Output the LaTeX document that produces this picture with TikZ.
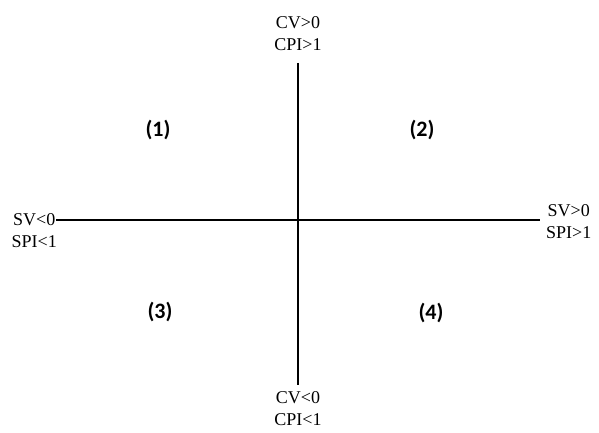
\documentclass[tikz,border=0pt]{standalone}
\usepackage{fontspec}
\setmainfont{Liberation Serif}
\newfontfamily\quadfont{Carlito}
\begin{document}
\begin{tikzpicture}[x=1pt, y=-1pt,
    axis/.style={line width=2.5pt, black},
    cond/.style={font=\fontsize{18}{22}\selectfont, align=center, inner sep=0pt},
    quad/.style={font=\quadfont\bfseries\fontsize{22}{26}\selectfont, inner sep=0pt}]
    \useasboundingbox (0,0) rectangle (599,433);

    % Achsenenden
    \coordinate (top) at (298,63);
    \coordinate (bot) at (298,385);
    \coordinate (lft) at (56,220);
    \coordinate (rgt) at (540,220);

    % Achsen
    \draw[axis] (top) -- (bot);
    \draw[axis] (lft) -- (rgt);

    % Bedingungen an den Achsen
    \node[cond] (cvpos) at (298,34) {CV>0\\CPI>1};
    \node[cond] (cvneg) at (298,409) {CV<0\\CPI<1};
    \node[cond, anchor=east] (svneg) at (57,231) {SV<0\\SPI<1};
    \node[cond, anchor=west] (svpos) at (546,222) {SV>0\\SPI>1};

    % Quadranten
    \node[quad] (q1) at (158,130) {(1)};
    \node[quad] (q2) at (422,130) {(2)};
    \node[quad] (q3) at (160,312) {(3)};
    \node[quad] (q4) at (431,313) {(4)};
\end{tikzpicture}
\end{document}
